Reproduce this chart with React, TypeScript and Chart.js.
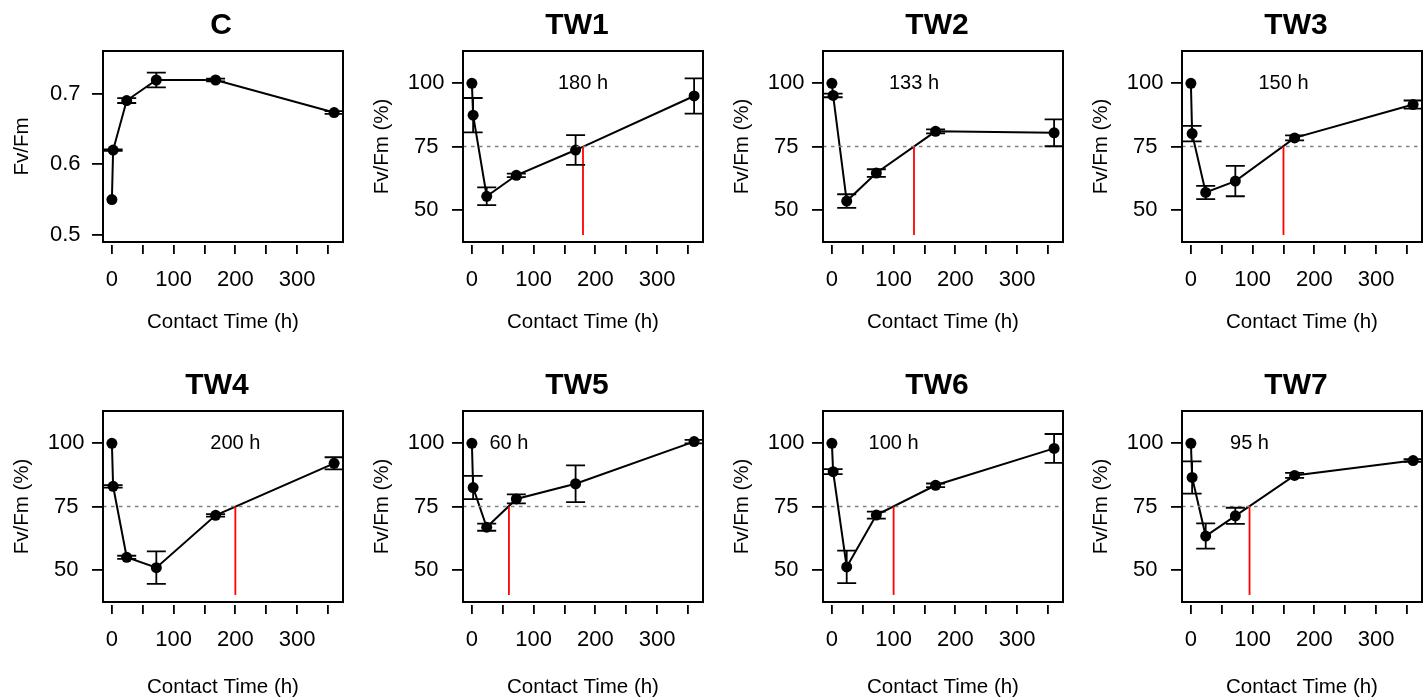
import React, { useEffect, useRef } from "react";
import { Chart, registerables } from "chart.js";

Chart.register(...registerables);

const FONT = "'Liberation Sans', Arial, Helvetica, sans-serif";

// Contact times (h)
const hours = [0, 2, 24, 72, 168, 360];
const xTicks = [0, 50, 100, 150, 200, 250, 300, 350];
const twYTicks = [50, 75, 100];
const cYTicks = [0.5, 0.6, 0.7];
const threshold = 75;

const panelNames = ["C", "TW1", "TW2", "TW3", "TW4", "TW5", "TW6", "TW7"];

const cMean = [0.55, 0.62, 0.69, 0.719, 0.719, 0.673];
const cErr = [0, 0.001, 0.0035, 0.0105, 0.002, 0.002];
const tw1Mean = [100, 87.4, 55.3, 63.6, 73.6, 95.0];
const tw1Err = [0, 6.8, 3.5, 0.7, 5.9, 7.0];
const tw2Mean = [100, 95.2, 53.4, 64.5, 81.0, 80.4];
const tw2Err = [0, 0.7, 2.7, 1.5, 0.8, 5.3];
const tw3Mean = [100, 80.1, 56.8, 61.3, 78.4, 91.6];
const tw3Err = [0, 3.1, 2.6, 6.0, 1.0, 1.6];
const tw4Mean = [100, 83.0, 54.9, 50.8, 71.5, 92.1];
const tw4Err = [0, 0.5, 0.6, 6.4, 0.5, 2.4];
const tw5Mean = [100, 82.5, 66.8, 78.0, 84.0, 100.7];
const tw5Err = [0, 4.6, 1.4, 1.8, 7.3, 0.7];
const tw6Mean = [100, 88.8, 51.1, 71.6, 83.4, 98.0];
const tw6Err = [0, 1.0, 6.4, 1.4, 0.7, 5.7];
const tw7Mean = [100, 86.5, 63.3, 71.3, 87.3, 93.2];
const tw7Err = [0, 6.4, 5.0, 3.2, 1.0, 0.5];

// Time to recover 75 % (h); null for the control
const recoveryHours = [null, 180, 133, 150, 200, 60, 100, 95];

const means = [cMean, tw1Mean, tw2Mean, tw3Mean, tw4Mean, tw5Mean, tw6Mean, tw7Mean];
const errs = [cErr, tw1Err, tw2Err, tw3Err, tw4Err, tw5Err, tw6Err, tw7Err];

// axis ranges (R style 4 % extension)
const xMin = -14.4;
const xMax = 374.4;
const twYMin = 37.2;
const twYMax = 112.8;
const cYMin = 0.49;
const cYMax = 0.76;

type PanelProps = {
  idx: number;
  left: number;
  top: number;
};

function Panel({ idx, left, top }: PanelProps) {
  const ref = useRef<HTMLCanvasElement | null>(null);
  useEffect(() => {
    const canvas = ref.current;
    if (!canvas) return;
    const isC = idx === 0;
    const row = Math.floor(idx / 4);
    const mean = means[idx];
    const err = errs[idx];
    const rec = recoveryHours[idx];
    const font = { family: FONT, size: 20.5 };
    const tickFont = { family: FONT, size: 22 };

    const datasets: any[] = [];
    if (!isC) {
      datasets.push({
        data: [
          { x: xMin, y: threshold },
          { x: xMax, y: threshold },
        ],
        borderColor: "#808080",
        borderWidth: 1.6,
        borderDash: [3.5, 4.5],
        pointRadius: 0,
      });
      datasets.push({
        data: [
          { x: rec, y: 40 },
          { x: rec, y: threshold },
        ],
        borderColor: "#ff0000",
        borderWidth: 1.8,
        pointRadius: 0,
      });
    }
    datasets.push({
      data: hours.map((h, i) => ({ x: h, y: mean[i] })),
      borderColor: "#000",
      borderWidth: 2,
      pointRadius: 5.5,
      pointBackgroundColor: "#000",
      pointBorderColor: "#000",
      pointBorderWidth: 0,
      tension: 0,
    });

    const overlay = {
      id: "overlay" + idx,
      afterDatasetsDraw(chart: any) {
        const { ctx, chartArea: a, scales } = chart;
        const x = scales.x;
        const y = scales.y;
        ctx.save();
        ctx.beginPath();
        ctx.rect(a.left, a.top, a.right - a.left, a.bottom - a.top);
        ctx.clip();
        ctx.strokeStyle = "#000";
        ctx.lineWidth = 1.8;
        mean.forEach((m: number, i: number) => {
          const e = err[i];
          if (!e) return;
          const px = x.getPixelForValue(hours[i]);
          const y1 = y.getPixelForValue(m - e);
          const y2 = y.getPixelForValue(m + e);
          ctx.beginPath();
          ctx.moveTo(px, y1);
          ctx.lineTo(px, y2);
          ctx.moveTo(px - 9.5, y1);
          ctx.lineTo(px + 9.5, y1);
          ctx.moveTo(px - 9.5, y2);
          ctx.lineTo(px + 9.5, y2);
          ctx.stroke();
        });
        ctx.restore();
        if (rec !== null) {
          ctx.save();
          ctx.font = "20px " + FONT;
          ctx.fillStyle = "#000";
          ctx.textAlign = "center";
          ctx.textBaseline = "middle";
          ctx.fillText(rec + " h", x.getPixelForValue(rec), y.getPixelForValue(100));
          ctx.restore();
        }
        ctx.save();
        ctx.strokeStyle = "#000";
        ctx.lineWidth = 2;
        ctx.strokeRect(a.left, a.top, a.right - a.left, a.bottom - a.top);
        // panel title
        ctx.font = "bold 30px " + FONT;
        ctx.fillStyle = "#000";
        ctx.textAlign = "center";
        ctx.textBaseline = "middle";
        ctx.fillText(panelNames[idx], (a.left + a.right) / 2 - (isC ? 2 : 6), 26);
        ctx.restore();
      },
    };

    const chart = new Chart(canvas, {
      type: "line",
      data: { datasets },
      options: {
        responsive: false,
        animation: false,
        devicePixelRatio: 1,
        layout: { padding: { left: 0, right: 17, top: 51, bottom: 0 } },
        plugins: {
          legend: { display: false },
          tooltip: { enabled: false },
          title: { display: false },
        },
        scales: {
          x: {
            type: "linear",
            min: xMin,
            max: xMax,
            afterBuildTicks: (s: any) => {
              s.ticks = xTicks.map((v) => ({ value: v }));
            },
            afterFit: (s: any) => {
              s.height = 118;
            },
            ticks: {
              autoSkip: false,
              maxRotation: 0,
              minRotation: 0,
              padding: 12.5,
              color: "#000",
              font: tickFont,
              callback: (v: any) => (Number(v) % 100 === 0 ? String(v) : ""),
            },
            grid: {
              display: true,
              drawOnChartArea: false,
              drawTicks: true,
              tickLength: 12,
              color: "#000",
              lineWidth: 1.8,
              tickBorderDash: [0, 3, 9, 100],
            },
            border: { display: false },
            title: {
              display: true,
              text: "Contact Time (h)",
              color: "#000",
              font,
              padding: { top: 0, bottom: row === 0 ? 25 : 20 },
            },
          },
          y: {
            type: "linear",
            min: isC ? cYMin : twYMin,
            max: isC ? cYMax : twYMax,
            afterBuildTicks: (s: any) => {
              s.ticks = (isC ? cYTicks : twYTicks).map((v) => ({ value: v }));
            },
            afterFit: (s: any) => {
              s.width = 103;
            },
            ticks: {
              crossAlign: "center",
              padding: isC ? 11.5 : 7.5,
              color: "#000",
              font: tickFont,
              callback: (v: any) => (isC ? Number(v).toFixed(1) : String(v)),
            },
            grid: {
              display: true,
              drawOnChartArea: false,
              drawTicks: true,
              tickLength: 11,
              color: "#000",
              lineWidth: 1.8,
            },
            border: { display: false },
            title: {
              display: true,
              text: isC ? "Fv/Fm" : "Fv/Fm (%)",
              color: "#000",
              font,
              padding: { top: 10, bottom: 0 },
            },
          },
        },
      } as any,
      plugins: [overlay],
    });
    return () => chart.destroy();
  }, [idx]);
  return (
    <canvas
      ref={ref}
      width={360}
      height={360}
      style={{ position: "absolute", left, top, width: 360, height: 360 }}
    />
  );
}

export default function App() {
  return (
    <div
      style={{
        position: "fixed",
        left: 0,
        top: 0,
        width: 1427,
        height: 700,
        overflow: "hidden",
        background: "#fff",
      }}
    >
      {panelNames.map((n, i) => (
        <Panel key={n} idx={i} left={Math.round((i % 4) * 359.75)} top={Math.floor(i / 4) * 360} />
      ))}
    </div>
  );
}
